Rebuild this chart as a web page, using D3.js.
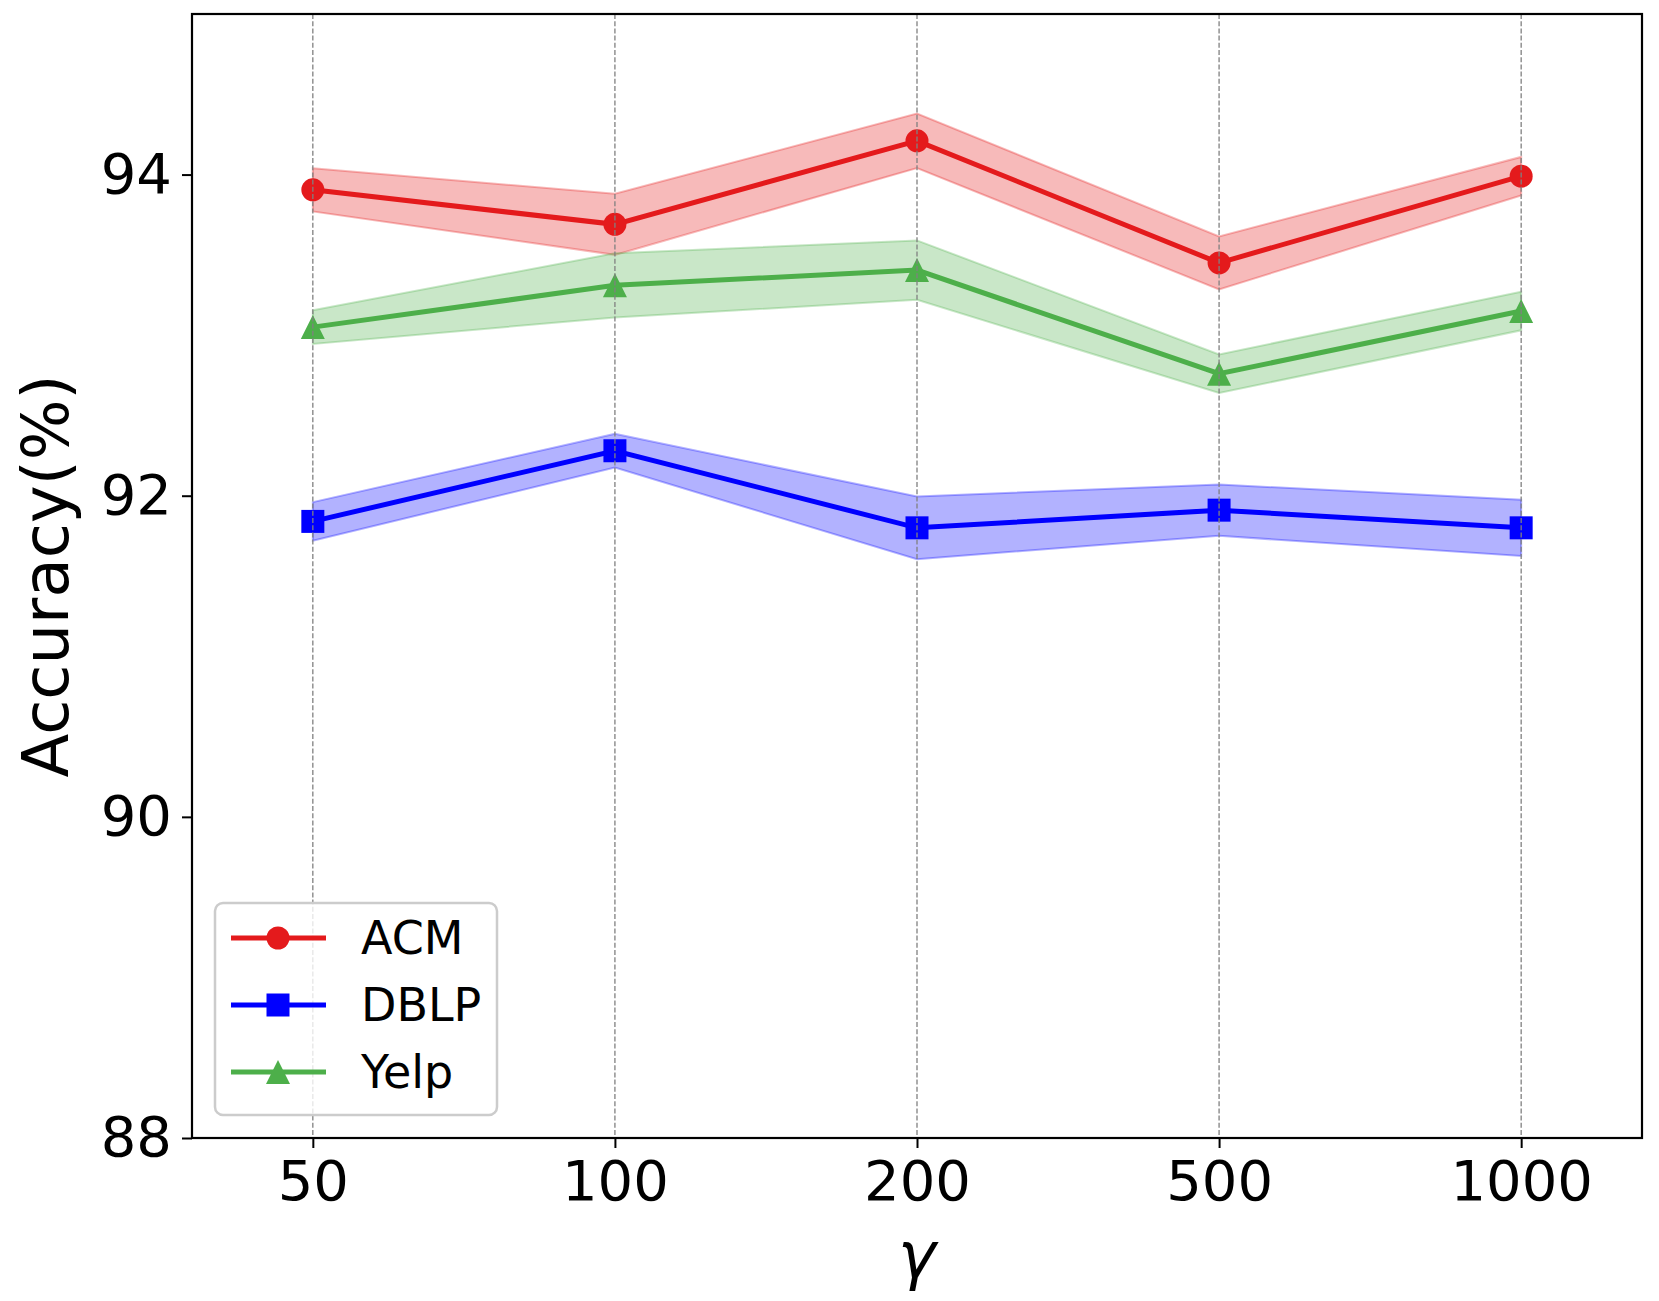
<!DOCTYPE html>
<html>
<head>
<meta charset="utf-8">
<script src="https://cdn.jsdelivr.net/npm/d3@7"></script>
<style>
  body { margin: 0; background: #fff; }
  text { font-family: "DejaVu Sans", sans-serif; }
</style>
</head>
<body>
<script>
// values
var gammas = ['50', '100', '200', '500', '1000']
var acmMean = [93.905, 93.69, 94.21, 93.45, 93.99]
var acmStd = [0.135, 0.19, 0.17, 0.165, 0.12]
var dblpMean = [91.84, 92.28, 91.80, 91.91, 91.80]
var dblpStd = [0.12, 0.105, 0.195, 0.16, 0.175]
var yelpMean = [93.05, 93.31, 93.405, 92.76, 93.15]
var yelpStd = [0.105, 0.20, 0.185, 0.12, 0.12]
var yTicks = [88, 90, 92, 94]

var width = 1659, height = 1301
var plotLeft = 192, plotRight = 1642, plotTop = 14, plotBottom = 1138

var series = [
  {name: 'ACM', mean: acmMean, std: acmStd, color: '#e41a1c', marker: 'circle'},
  {name: 'DBLP', mean: dblpMean, std: dblpStd, color: '#0000ff', marker: 'square'},
  {name: 'Yelp', mean: yelpMean, std: yelpStd, color: '#4daf4a', marker: 'triangle'}
]

var svg = d3.select('body').append('svg')
  .attr('width', width)
  .attr('height', height)

svg.append('rect').attr('width', width).attr('height', height).attr('fill', '#fff')

var x = d3.scaleLinear().domain([-0.4, 4.4]).range([plotLeft, plotRight])
var y = d3.scaleLinear().domain([88, 95]).range([plotBottom, plotTop])

function markerPath(type, cx, cy) {
  if (type == 'circle') {
    var r = 11.5
    return 'M' + (cx - r) + ',' + cy + 'a' + r + ',' + r + ' 0 1,0 ' + (2 * r) + ',0a' + r + ',' + r + ' 0 1,0 ' + (-2 * r) + ',0Z'
  }
  if (type == 'square') {
    var s = 11.5
    return 'M' + (cx - s) + ',' + (cy - s) + 'h' + (2 * s) + 'v' + (2 * s) + 'h' + (-2 * s) + 'Z'
  }
  var t = 12
  return 'M' + cx + ',' + (cy - t) + 'L' + (cx + t) + ',' + (cy + t) + 'L' + (cx - t) + ',' + (cy + t) + 'Z'
}

// bands
var area = d3.area()
  .x(function(d, i){ return x(i) })
  .y0(function(d){ return y(d[0] - d[1]) })
  .y1(function(d){ return y(d[0] + d[1]) })

series.forEach(function(s){
  var pts = s.mean.map(function(m, i){ return [m, s.std[i]] })
  svg.append('path')
    .attr('d', area(pts))
    .attr('fill', s.color)
    .attr('fill-opacity', 0.3)
    .attr('stroke', s.color)
    .attr('stroke-opacity', 0.3)
    .attr('stroke-width', 2)
})

// lines + markers
var line = d3.line()
  .x(function(d, i){ return x(i) })
  .y(function(d){ return y(d) })

series.forEach(function(s){
  svg.append('path')
    .attr('d', line(s.mean))
    .attr('fill', 'none')
    .attr('stroke', s.color)
    .attr('stroke-width', 5)
  svg.selectAll(null)
    .data(s.mean)
    .enter()
    .append('path')
    .attr('d', function(d, i){ return markerPath(s.marker, x(i), y(d)) })
    .attr('fill', s.color)
})

// vertical dashed grid, drawn above the data
svg.selectAll('.grid')
  .data(gammas)
  .enter()
  .append('line')
  .attr('class', 'grid')
  .attr('x1', function(d, i){ return x(i) })
  .attr('x2', function(d, i){ return x(i) })
  .attr('y1', plotTop)
  .attr('y2', plotBottom)
  .attr('stroke', '#808080')
  .attr('stroke-width', 1.3)
  .attr('stroke-dasharray', '5,2.2')

// axes
var xAxis = d3.axisBottom(x)
  .tickValues([0, 1, 2, 3, 4])
  .tickFormat(function(d){ return gammas[d] })
  .tickSize(10)
  .tickPadding(12)

var yAxis = d3.axisLeft(y)
  .tickValues(yTicks)
  .tickFormat(d3.format('d'))
  .tickSize(10)
  .tickPadding(10)

var gx = svg.append('g').attr('transform', 'translate(0,' + plotBottom + ')').call(xAxis)
var gy = svg.append('g').attr('transform', 'translate(' + plotLeft + ',0)').call(yAxis)

;[gx, gy].forEach(function(g){
  g.select('.domain').remove()
  g.selectAll('.tick line').attr('stroke', '#000').attr('stroke-width', 2)
  g.selectAll('.tick text')
    .attr('fill', '#000')
    .style('font-family', '"DejaVu Sans", sans-serif')
    .style('font-size', '56px')
})

svg.append('rect')
  .attr('x', plotLeft).attr('y', plotTop)
  .attr('width', plotRight - plotLeft).attr('height', plotBottom - plotTop)
  .attr('fill', 'none')
  .attr('stroke', '#000')
  .attr('stroke-width', 2.2)

// axis labels
svg.append('text')
  .attr('transform', 'translate(68,' + ((plotTop + plotBottom) / 2) + ') rotate(-90)')
  .attr('text-anchor', 'middle')
  .style('font-size', '64px')
  .text('Accuracy(%)')

svg.append('text')
  .attr('x', (plotLeft + plotRight) / 2)
  .attr('y', 1278)
  .attr('text-anchor', 'middle')
  .style('font-size', '64px')
  .style('font-style', 'italic')
  .text('γ')

// legend
var lg = svg.append('g')
lg.append('rect')
  .attr('x', 215).attr('y', 903)
  .attr('width', 282).attr('height', 212)
  .attr('rx', 8)
  .attr('fill', '#fff')
  .attr('fill-opacity', 0.8)
  .attr('stroke', '#cccccc')
  .attr('stroke-width', 2.5)

series.forEach(function(s, i){
  var ly = 938 + i * 67
  lg.append('line')
    .attr('x1', 231).attr('x2', 326)
    .attr('y1', ly).attr('y2', ly)
    .attr('stroke', s.color)
    .attr('stroke-width', 5)
  lg.append('path')
    .attr('d', markerPath(s.marker, 278, ly))
    .attr('fill', s.color)
  lg.append('text')
    .attr('x', 361)
    .attr('y', ly + 16)
    .style('font-size', '46px')
    .text(s.name)
})
</script>
</body>
</html>
